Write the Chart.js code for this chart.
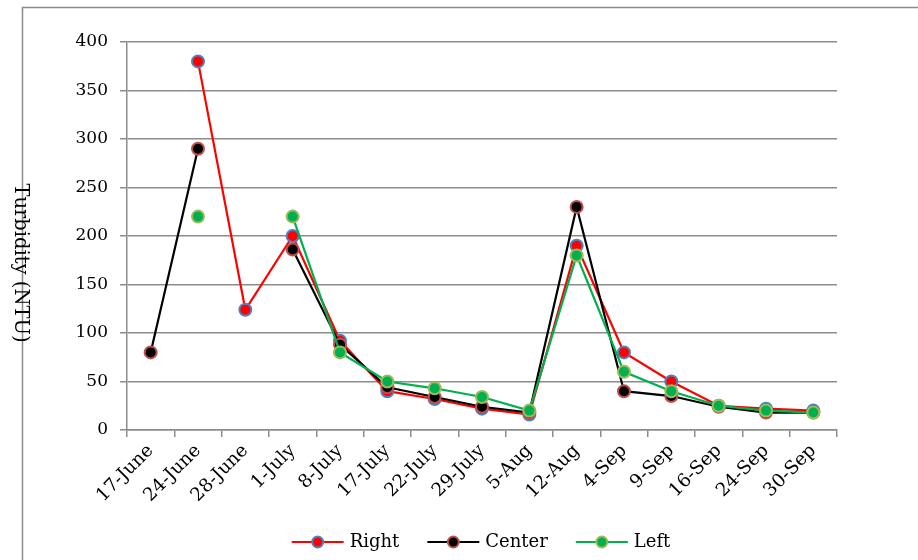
<!DOCTYPE html>
<html>
<head>
<meta charset="utf-8">
<script src="https://cdn.jsdelivr.net/npm/chart.js@4/dist/chart.umd.min.js"></script>
<style>
  html, body { margin: 0; padding: 0; background: #ffffff; }
  #wrap { width: 918px; height: 560px; position: relative; }
</style>
</head>
<body>
<div id="wrap"><canvas id="c" width="918" height="560"></canvas></div>
<script>
const categories = ["17-June","24-June","28-June","1-July","8-July","17-July","22-July","29-July","5-Aug","12-Aug","4-Sep","9-Sep","16-Sep","24-Sep","30-Sep"];
const rightValues  = [null, 380, 124, 200, 92, 40, 32, 22, 16, 190, 80, 50, 25, 22, 20];
const centerValues = [80, 290, null, 186, 88, 44, 34, 24, 18, 230, 40, 35, 24, 18, 18];
const leftValues   = [null, 220, null, 220, 80, 50, 43, 34, 20, 180, 60, 40, 25, 20, 18];
const yTicks = [0, 50, 100, 150, 200, 250, 300, 350, 400];
const yTitle = "Turbidity (NTU)";

const FONT = "'DejaVu Serif', serif";
const GRID = "#8c8c8c";

function ds(label, data, line, fill, border, order) {
  return {
    label, data, order,
    borderColor: line, backgroundColor: fill,
    borderWidth: 2.2,
    pointRadius: 6, pointHoverRadius: 6,
    pointBackgroundColor: fill, pointBorderColor: border, pointBorderWidth: 2,
    spanGaps: false, tension: 0, fill: false
  };
}

const framePlugin = {
  id: 'frame',
  beforeDraw(chart) {
    const ctx = chart.ctx;
    ctx.save();
    ctx.strokeStyle = GRID;
    ctx.lineWidth = 1.5;
    ctx.strokeRect(22.5, 7.5, 1200, 1200);
    ctx.restore();
  },
  afterDraw(chart) {
    const ctx = chart.ctx;
    // y-axis title, reading top to bottom
    ctx.save();
    ctx.fillStyle = '#000';
    ctx.font = "19.5px " + FONT;
    ctx.translate(20, 263);
    ctx.rotate(Math.PI / 2);
    ctx.textAlign = 'center';
    ctx.textBaseline = 'middle';
    ctx.fillText(yTitle, 0, 0);
    ctx.restore();
    // legend with line + marker
    ctx.save();
    ctx.font = "18px " + FONT;
    const items = chart.data.datasets;
    const lineLen = 52, gapText = 6, itemGap = 28;
    let total = 0;
    const widths = items.map(d => ctx.measureText(d.label).width);
    items.forEach((d, i) => { total += lineLen + gapText + widths[i]; });
    total += itemGap * (items.length - 1);
    let x = 481 - total / 2;
    const y = 542;
    items.forEach((d, i) => {
      ctx.strokeStyle = d.borderColor;
      ctx.lineWidth = 2.2;
      ctx.beginPath(); ctx.moveTo(x, y); ctx.lineTo(x + lineLen, y); ctx.stroke();
      ctx.beginPath(); ctx.arc(x + lineLen / 2, y, 5.5, 0, Math.PI * 2);
      ctx.fillStyle = d.pointBackgroundColor; ctx.fill();
      ctx.strokeStyle = d.pointBorderColor; ctx.lineWidth = 2; ctx.stroke();
      ctx.fillStyle = '#000';
      ctx.textAlign = 'left'; ctx.textBaseline = 'middle';
      ctx.fillText(d.label, x + lineLen + gapText, y);
      x += lineLen + gapText + widths[i] + itemGap;
    });
    ctx.restore();
  }
};

new Chart(document.getElementById('c'), {
  type: 'line',
  data: {
    labels: categories,
    datasets: [
      ds("Right", rightValues, "#ff0000", "#ff0000", "#4f81bd", 2),
      ds("Center", centerValues, "#000000", "#000000", "#c0504d", 1),
      ds("Left", leftValues, "#00b050", "#00b050", "#9bbb59", 0)
    ]
  },
  options: {
    responsive: false,
    animation: false,
    layout: { padding: { left: 0, right: 81, top: 42, bottom: 50 } },
    plugins: { legend: { display: false }, tooltip: { enabled: false } },
    scales: {
      x: {
        offset: true,
        grid: { display: true, drawOnChartArea: false, drawTicks: true, tickLength: 7, color: GRID, lineWidth: 1.5, offset: true },
        border: { display: true, color: GRID, width: 1.5 },
        ticks: { color: '#000', font: { family: FONT, size: 18.5 }, maxRotation: 45, minRotation: 45, autoSkip: false, padding: 3 },
        afterFit(s) { s.height = 80; }
      },
      y: {
        min: 0, max: 400,
        afterBuildTicks(s) { s.ticks = yTicks.map(v => ({ value: v })); },
        grid: { color: GRID, lineWidth: 1.5, tickLength: 7, drawTicks: true },
        border: { display: true, color: GRID, width: 1.5 },
        ticks: { color: '#000', font: { family: FONT, size: 17 }, padding: 12 },
        afterFit(s) { s.width = 127; }
      }
    }
  },
  plugins: [framePlugin]
});
</script>
</body>
</html>
